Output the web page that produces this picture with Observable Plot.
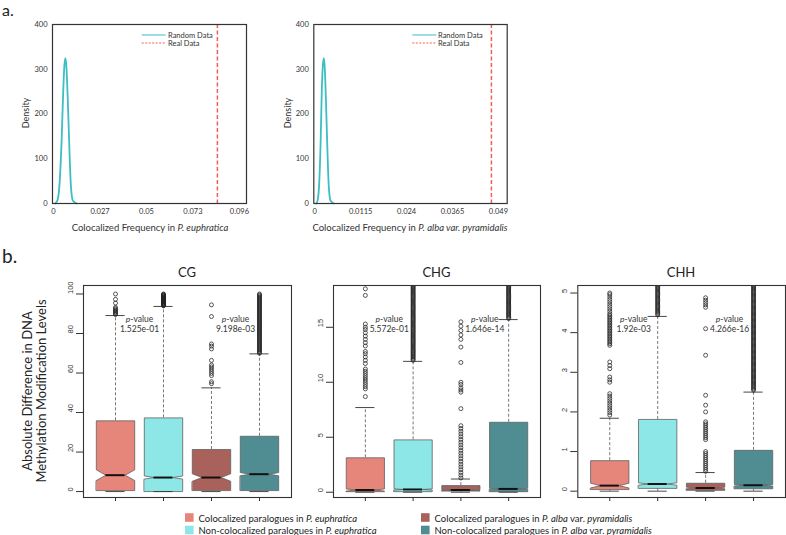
<!DOCTYPE html>
<html><head><meta charset="utf-8">
<script src="https://cdn.jsdelivr.net/npm/d3@7"></script>
<script src="https://cdn.jsdelivr.net/npm/@observablehq/plot@0.6"></script>
<style>
body{margin:0;background:#fff;}
#root{position:relative;width:786px;height:535px;overflow:hidden;background:#fff;}
#root svg{position:absolute;}
</style></head><body><div id="root"></div>
<script>
// ---------- Panel a: density data ----------
const densityTicks = [0, 100, 200, 300, 400];
const euphFreq = [0.0048, 0.0060, 0.0070, 0.0080, 0.0088, 0.0094, 0.0099, 0.0104, 0.0110, 0.0118, 0.0126, 0.0136, 0.0155];
const euphDensity = [0, 8, 45, 140, 250, 310, 325, 305, 240, 130, 40, 6, 0];
const euphReal = 0.0851;
const euphTicks = [0.004, 0.027, 0.05, 0.073, 0.096];
const euphTickLabels = ["0", "0.027", "0.05", "0.073", "0.096"];
const albaFreq = [-0.0006, -0.0002, 0.0002, 0.0006, 0.0009, 0.0012, 0.00145, 0.0017, 0.0020, 0.0024, 0.0028, 0.0033, 0.0042];
const albaDensity = [0, 8, 45, 140, 250, 310, 325, 305, 240, 130, 40, 6, 0];
const albaReal = 0.0471;
const albaTicks = [-0.001, 0.0115, 0.024, 0.0365, 0.049];
const albaTickLabels = ["0", "0.0115", "0.024", "0.0365", "0.049"];

// ---------- Panel b: box plot data ----------
const groupNames = ["Colocalized paralogues in P. euphratica", "Non-colocalized paralogues in P. euphratica",
  "Colocalized paralogues in P. alba var. pyramidalis", "Non-colocalized paralogues in P. alba var. pyramidalis"];
const groupColors = ["#E6867B", "#8DE7E6", "#A8625B", "#4F8D93"];
const contexts = ["CG", "CHG", "CHH"];

const cgLower = [0, 0, 0, 0];
const cgQ1 = [0.5, 0, 0.5, 0.5];
const cgMedian = [8.3, 7.1, 7.1, 8.8];
const cgQ3 = [35.8, 37.3, 21.3, 28];
const cgUpper = [89.1, 93.7, 52.5, 69.7];
const cgNotchLo = [5.6, 6.3, 5.2, 8.0];
const cgNotchHi = [11.0, 7.9, 9.0, 9.6];
const cgOut1 = [89.6, 90.1, 90.6, 91.1, 91.6, 92.1, 92.6, 93.2, 95.4, 97.3, 100];
const cgOut2 = [94, 94.25, 94.5, 94.75, 95, 95.25, 95.5, 95.75, 96, 96.25, 96.5, 96.75, 97, 97.25, 97.5, 97.75, 98, 98.25, 98.5, 98.75, 99, 99.25, 99.5, 99.75, 100];
const cgOut3 = [54.6, 55.6, 58.7, 59.8, 60.9, 62.0, 63.1, 64.1, 66.4, 72.2, 73.6, 74.7, 88.6, 94.5];
const cgOut4 = [70, 70.5, 71, 71.5, 72, 72.5, 73, 73.5, 74, 74.5, 75, 75.5, 76, 76.5, 77, 77.5, 78, 78.5, 79, 79.5, 80, 80.5, 81, 81.5, 82, 82.5, 83, 83.5, 84, 84.5, 85, 85.5, 86, 86.5, 87, 87.5, 88, 88.5, 89, 89.5, 90, 90.5, 91, 91.5, 92, 92.5, 93, 93.5, 94, 94.5, 95, 95.5, 96, 96.5, 97, 97.5, 98, 98.5, 99, 99.5, 100];
const cgP = ["1.525e-01", "9.198e-03"];
const cgTicks = [0, 20, 40, 60, 80, 100];

const chgLower = [0, 0, 0, 0];
const chgQ1 = [0.05, 0.05, 0.1, 0.05];
const chgMedian = [0.2, 0.25, 0.2, 0.3];
const chgQ3 = [3.13, 4.76, 0.6, 6.36];
const chgUpper = [7.7, 11.9, 1.2, 15.7];
const chgNotchLo = [0.1, 0.2, 0.15, 0.25];
const chgNotchHi = [0.3, 0.3, 0.25, 0.35];
const chgOut1 = [8.7, 9.4, 9.6, 9.8, 10.0, 10.2, 10.4, 10.6, 10.8, 11.0, 11.2, 11.7, 12.0, 12.3, 12.6, 12.8, 13.3, 13.6, 13.9, 14.2, 14.5, 14.8, 15.0, 15.3, 17.9, 18.5];
const chgOut2 = [12.0, 12.1, 12.2, 12.3, 12.4, 12.5, 12.6, 12.7, 12.8, 12.9, 13.0, 13.1, 13.2, 13.3, 13.4, 13.5, 13.6, 13.7, 13.8, 13.9, 14.0, 14.1, 14.2, 14.3, 14.4, 14.5, 14.6, 14.7, 14.8, 14.9, 15.0, 15.1, 15.2, 15.3, 15.4, 15.5, 15.6, 15.7, 15.8, 15.9, 16.0, 16.1, 16.2, 16.3, 16.4, 16.5, 16.6, 16.7, 16.8, 16.9, 17.0, 17.1, 17.2, 17.3, 17.4, 17.5, 17.6, 17.7, 17.8, 17.9, 18.0, 18.1, 18.2, 18.3, 18.4, 18.5, 18.6, 18.7, 18.8, 18.9, 19.0];
const chgOut3 = [1.3, 1.55, 1.8, 2.05, 2.3, 2.55, 2.8, 3.05, 3.3, 3.55, 3.8, 4.05, 4.3, 4.55, 4.8, 5.05, 5.3, 5.55, 5.8, 6.05, 7.6, 9.1, 9.3, 9.5, 9.8, 10.0, 11.8, 13.2, 13.9, 14.3, 14.7, 15.1, 15.5];
const chgOut4 = [15.8, 15.9, 16.0, 16.1, 16.2, 16.3, 16.4, 16.5, 16.6, 16.7, 16.8, 16.9, 17.0, 17.1, 17.2, 17.3, 17.4, 17.5, 17.6, 17.7, 17.8, 17.9, 18.0, 18.1, 18.2, 18.3, 18.4, 18.5, 18.6, 18.7, 18.8, 18.9, 19.0];
const chgP = ["5.572e-01", "1.646e-14"];
const chgTicks = [0, 5, 10, 15];

const chhLower = [0, 0, 0, 0];
const chhQ1 = [0.04, 0.07, 0.02, 0.06];
const chhMedian = [0.14, 0.18, 0.08, 0.15];
const chhQ3 = [0.77, 1.81, 0.2, 1.03];
const chhUpper = [1.84, 4.41, 0.47, 2.5];
const chhNotchLo = [0.08, 0.15, 0.06, 0.13];
const chhNotchHi = [0.2, 0.21, 0.1, 0.17];
const chhOut1 = [1.92, 1.98, 2.04, 2.1, 2.16, 2.22, 2.28, 2.34, 2.4, 2.46, 2.75, 2.81, 2.88, 3.09, 3.17, 3.26, 3.68, 3.72, 3.76, 3.8, 3.84, 3.88, 3.92, 3.96, 4.0, 4.04, 4.08, 4.12, 4.16, 4.2, 4.24, 4.28, 4.32, 4.36, 4.4, 4.44, 4.48, 4.54, 4.6, 4.66, 4.72, 4.78, 4.84, 4.9, 4.96, 5.0];
const chhOut2 = [4.45, 4.48, 4.51, 4.54, 4.57, 4.6, 4.63, 4.66, 4.69, 4.72, 4.75, 4.78, 4.81, 4.84, 4.87, 4.9, 4.93, 4.96, 4.99, 5.02, 5.05, 5.08, 5.11, 5.14, 5.17, 5.2, 5.23, 5.26, 5.29];
const chhOut3 = [0.5, 0.55, 0.6, 0.65, 0.7, 0.75, 0.8, 0.85, 0.9, 0.95, 1.0, 1.3, 1.35, 1.4, 1.45, 1.5, 1.55, 1.6, 1.65, 1.7, 1.75, 2.0, 2.17, 2.42, 3.43, 4.1, 4.64, 4.7, 4.76, 4.82, 4.88];
const chhOut4 = [2.55, 2.58, 2.61, 2.64, 2.67, 2.7, 2.73, 2.76, 2.79, 2.82, 2.85, 2.88, 2.91, 2.94, 2.97, 3.0, 3.03, 3.06, 3.09, 3.12, 3.15, 3.18, 3.21, 3.24, 3.27, 3.3, 3.33, 3.36, 3.39, 3.42, 3.45, 3.48, 3.51, 3.54, 3.57, 3.6, 3.63, 3.66, 3.69, 3.72, 3.75, 3.78, 3.81, 3.84, 3.87, 3.9, 3.93, 3.96, 3.99, 4.02, 4.05, 4.08, 4.11, 4.14, 4.17, 4.2, 4.23, 4.26, 4.29, 4.32, 4.35, 4.38, 4.41, 4.44, 4.47, 4.5, 4.53, 4.56, 4.59, 4.62, 4.65, 4.68, 4.71, 4.74, 4.77, 4.8, 4.83, 4.86, 4.89, 4.92, 4.95, 4.98, 5.01, 5.04, 5.07, 5.1, 5.13, 5.16, 5.19, 5.22, 5.25, 5.28];
const chhP = ["1.92e-03", "4.266e-16"];
const chhTicks = [0, 1, 2, 3, 4, 5];

// ---------- rendering ----------
const root = document.getElementById("root");
function place(el, left, top) { el.style.left = left + "px"; el.style.top = top + "px"; root.appendChild(el); }

function densityPanel(o) {
  const width = 262, height = 235;
  const rows = o.xs.map((x, i) => ({x, y: o.ys[i]}));
  const fmt = d => o.labels[o.ticks.indexOf(d)];
  const svg = Plot.plot({
    width, height,
    marginLeft: o.frameL - o.left, marginRight: o.left + width - o.frameR, marginTop: 24, marginBottom: 32,
    x: {domain: o.domain, label: null},
    y: {domain: [0, 400], label: null},
    style: {fontFamily: "Lato, sans-serif", fontSize: "7.5px", color: "#333", background: "transparent"},
    marks: [
      Plot.axisX({ticks: o.ticks, tickFormat: fmt, tickSize: 0, tickPadding: 5, label: null}),
      Plot.axisY({ticks: densityTicks, tickSize: 0, tickPadding: 5, label: null}),
      Plot.line(rows, {x: "x", y: "y", stroke: "#3DBEC3", strokeWidth: 1.8, curve: "monotone-x"}),
      Plot.ruleX([o.real], {stroke: "#F25C58", strokeWidth: 1.5, strokeDasharray: "4,2.5"}),
      Plot.frame({stroke: "#333", strokeWidth: 1.2})
    ]
  });
  place(svg, o.left, 0);
}

densityPanel({xs: euphFreq, ys: euphDensity, real: euphReal, ticks: euphTicks, labels: euphTickLabels,
  domain: [0.0035, 0.0995], left: 0, frameL: 52, frameR: 246});
densityPanel({xs: albaFreq, ys: albaDensity, real: albaReal, ticks: albaTicks, labels: albaTickLabels,
  domain: [-0.00127, 0.0514], left: 262, frameL: 313.3, frameR: 506.7});

function boxPanel(o) {
  const height = 272;
  const pos = [1, 2, 3, 4];
  const half = 0.4, notchHalf = 0.2, capHalf = 0.2;
  const stats = pos.map((p, i) => ({p, lo: o.lower[i], q1: o.q1[i], med: o.median[i], q3: o.q3[i], hi: o.upper[i],
    nlo: o.notchLo[i], nhi: o.notchHi[i], color: groupColors[i]}));
  const polyOf = s => [
    [s.p - half, s.q1], [s.p + half, s.q1], [s.p + half, s.nlo], [s.p + notchHalf, s.med], [s.p + half, s.nhi],
    [s.p + half, s.q3], [s.p - half, s.q3], [s.p - half, s.nhi], [s.p - notchHalf, s.med], [s.p - half, s.nlo]
  ].map(([x, y]) => ({x, y}));
  const outRows = o.outliers.flatMap((arr, i) => arr.map(v => ({p: pos[i], v})));
  const pRows = [{p: 1.5, v: o.pValues[0]}, {p: 3.5, v: o.pValues[1]}];
  const svg = Plot.plot({
    width: o.width, height,
    marginLeft: o.frameL - o.left, marginRight: o.left + o.width - o.frameR, marginTop: 50, marginBottom: 10,
    x: {domain: [0.333, 4.667], label: null},
    y: {domain: o.yDomain, label: null},
    style: {fontFamily: "Lato, sans-serif", fontSize: "8px", color: "#333", background: "transparent"},
    marks: [
      Plot.ruleX(stats, {x: "p", y1: "q3", y2: "hi", stroke: "#555", strokeWidth: 0.8, strokeDasharray: "3,2"}),
      Plot.ruleX(stats, {x: "p", y1: "lo", y2: "q1", stroke: "#555", strokeWidth: 0.8, strokeDasharray: "3,2"}),
      ...stats.map(s => Plot.line(polyOf(s), {x: "x", y: "y", fill: s.color, stroke: "#5f5f5f", strokeWidth: 0.8, curve: "linear-closed", clip: true})),
      Plot.ruleY(stats, {y: "med", x1: d => d.p - notchHalf, x2: d => d.p + notchHalf, stroke: "#111", strokeWidth: 2}),
      Plot.ruleY(stats, {y: "hi", x1: d => d.p - capHalf, x2: d => d.p + capHalf, stroke: "#333", strokeWidth: 0.9}),
      Plot.ruleY(stats, {y: "lo", x1: d => d.p - capHalf, x2: d => d.p + capHalf, stroke: "#333", strokeWidth: 0.9}),
      Plot.dot(outRows, {x: "p", y: "v", r: 2, fill: "none", stroke: "#222", strokeWidth: 0.75, clip: true}),
      Plot.text(pRows, {x: "p", text: () => "p-value", frameAnchor: "top", dy: 30, fontSize: 8.5, fill: "#333"}),
      Plot.text(pRows, {x: "p", text: "v", frameAnchor: "top", dy: 40, fontSize: 8.5, fill: "#333"}),
      Plot.axisY({ticks: o.yTicks, tickSize: 7, tickFormat: () => "", label: null}),
      Plot.text(o.yTicks, {y: d => d, text: d => String(d), frameAnchor: "left", dx: -13, rotate: -90, fontSize: 7.5, fill: "#333", fontFamily: "'Liberation Sans', Arial, sans-serif"}),
      Plot.axisX({ticks: pos, tickSize: 4, tickFormat: () => "", label: null}),
      Plot.frame({stroke: "#333", strokeWidth: 1.1})
    ]
  });
  svg.querySelectorAll("text").forEach(t => {
    if (t.textContent === "p-value") {
      t.textContent = "";
      const a = document.createElementNS("http://www.w3.org/2000/svg", "tspan");
      a.setAttribute("font-style", "italic"); a.textContent = "p";
      const b = document.createElementNS("http://www.w3.org/2000/svg", "tspan");
      b.textContent = "-value";
      t.appendChild(a); t.appendChild(b);
    }
  });
  place(svg, o.left, 235);
}

boxPanel({lower: cgLower, q1: cgQ1, median: cgMedian, q3: cgQ3, upper: cgUpper, notchLo: cgNotchLo, notchHi: cgNotchHi,
  outliers: [cgOut1, cgOut2, cgOut3, cgOut4], pValues: cgP, yTicks: cgTicks, yDomain: [-3, 104.3],
  left: 0, width: 296, frameL: 83, frameR: 291});
boxPanel({lower: chgLower, q1: chgQ1, median: chgMedian, q3: chgQ3, upper: chgUpper, notchLo: chgNotchLo, notchHi: chgNotchHi,
  outliers: [chgOut1, chgOut2, chgOut3, chgOut4], pValues: chgP, yTicks: chgTicks, yDomain: [-0.48, 18.8],
  left: 296, width: 248, frameL: 333, frameR: 540});
boxPanel({lower: chhLower, q1: chhQ1, median: chhMedian, q3: chhQ3, upper: chhUpper, notchLo: chhNotchLo, notchHi: chhNotchHi,
  outliers: [chhOut1, chhOut2, chhOut3, chhOut4], pValues: chhP, yTicks: chhTicks, yDomain: [-0.16, 5.19],
  left: 544, width: 242, frameL: 577.3, frameR: 785});

// ---------- overlay text: panel labels, titles, legends ----------
const ov = d3.create("svg").attr("width", 786).attr("height", 535)
  .style("left", "0px").style("top", "0px").style("pointer-events", "none")
  .attr("font-family", "Lato, sans-serif").attr("fill", "#333");

function rich(sel, parts) {
  parts.forEach(([s, it]) => sel.append("tspan").attr("font-style", it ? "italic" : null).text(s));
  return sel;
}

ov.append("text").attr("x", 2).attr("y", 16).attr("font-size", 16).attr("fill", "#222").text("a.");
ov.append("text").attr("x", 2).attr("y", 263).attr("font-size", 19).attr("fill", "#222").text("b.");

// density inner legends
[[141.7, 168], [412.3, 438]].forEach(([lx, tx]) => {
  ov.append("line").attr("x1", lx).attr("x2", lx + 24).attr("y1", 35).attr("y2", 35).attr("stroke", "#3DBEC3").attr("stroke-width", 1);
  ov.append("line").attr("x1", lx).attr("x2", lx + 24).attr("y1", 43).attr("y2", 43).attr("stroke", "#F25C58").attr("stroke-width", 1).attr("stroke-dasharray", "2,1.5");
  ov.append("text").attr("x", tx).attr("y", 37.7).attr("font-size", 7.5).text("Random Data");
  ov.append("text").attr("x", tx).attr("y", 45.7).attr("font-size", 7.5).text("Real Data");
});

// density y titles
[[25, 113], [287, 113]].forEach(([x, y]) => {
  ov.append("text").attr("transform", `translate(${x},${y}) rotate(-90)`).attr("text-anchor", "middle")
    .attr("dominant-baseline", "central").attr("font-size", 9).text("Density");
});
// density x titles
rich(ov.append("text").attr("x", 150).attr("y", 230.5).attr("text-anchor", "middle").attr("font-size", 9.5),
  [["Colocalized Frequency in ", false], ["P. euphratica", true]]);
rich(ov.append("text").attr("x", 410).attr("y", 230.5).attr("text-anchor", "middle").attr("font-size", 9.5),
  [["Colocalized Frequency in ", false], ["P. alba var. pyramidalis", true]]);

// box panel titles
[[187, "CG"], [436.5, "CHG"], [681, "CHH"]].forEach(([x, t]) => {
  ov.append("text").attr("x", x).attr("y", 276.5).attr("text-anchor", "middle").attr("font-size", 13).attr("fill", "#222").text(t);
});
// box y title
[[27, "Absolute Difference in DNA"], [41, "Methylation Modification Levels"]].forEach(([x, t]) => {
  ov.append("text").attr("transform", `translate(${x},391) rotate(-90)`).attr("text-anchor", "middle")
    .attr("dominant-baseline", "central").attr("font-size", 13).attr("fill", "#222").text(t);
});

// bottom legend
const legendParts = [
  [["Colocalized paralogues in ", false], ["P. euphratica", true]],
  [["Non-colocalized paralogues in ", false], ["P. euphratica", true]],
  [["Colocalized paralogues in ", false], ["P. alba", true], [" var. ", false], ["pyramidalis", true]],
  [["Non-colocalized paralogues in ", false], ["P. alba", true], [" var. ", false], ["pyramidalis", true]]
];
const legendCols = [185, 185, 421, 421];
const legendRows = [517.5, 530, 517.5, 530];
legendParts.forEach((parts, i) => {
  ov.append("rect").attr("x", legendCols[i]).attr("y", legendRows[i] - 4.3).attr("width", 8.6).attr("height", 8.6).attr("fill", groupColors[i]);
  rich(ov.append("text").attr("x", legendCols[i] + 13.5).attr("y", legendRows[i]).attr("dominant-baseline", "central")
    .attr("font-size", 9.5).attr("fill", "#222"), parts);
});
root.appendChild(ov.node());
</script></body></html>
